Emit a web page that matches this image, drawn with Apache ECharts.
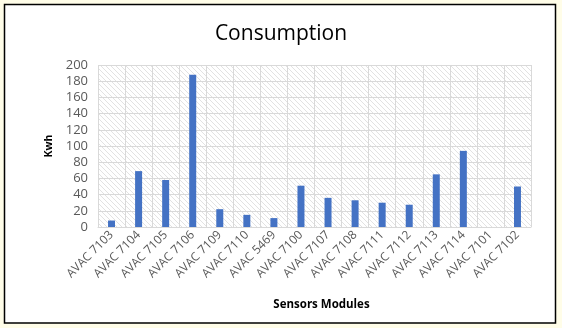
<!DOCTYPE html>
<html>
<head>
<meta charset="utf-8">
<script src="https://cdn.jsdelivr.net/npm/echarts@6/dist/echarts.min.js"></script>
<style>
html,body{margin:0;padding:0;background:#FFFDE8;}
#c{width:562px;height:328px;}
</style>
</head>
<body>
<div id="c"></div>
<script>
const categories = ["AVAC 7103","AVAC 7104","AVAC 7105","AVAC 7106","AVAC 7109","AVAC 7110","AVAC 5469","AVAC 7100","AVAC 7107","AVAC 7108","AVAC 7111","AVAC 7112","AVAC 7113","AVAC 7114","AVAC 7101","AVAC 7102"];
const consumption = [8, 69, 58, 188, 22, 15, 11, 51, 36, 33, 30, 27.5, 65, 94, 0, 50];
const yTicks = [0, 20, 40, 60, 80, 100, 120, 140, 160, 180, 200];

const pc = document.createElement('canvas');
pc.width = 5; pc.height = 5;
const g = pc.getContext('2d');
g.fillStyle = '#ffffff'; g.fillRect(0,0,5,5);
g.strokeStyle = '#e2e2e2'; g.lineWidth = 1;
g.beginPath(); g.moveTo(-1,-1); g.lineTo(6,6); g.stroke();
g.beginPath(); g.moveTo(-1,4); g.lineTo(1,6); g.stroke();
g.beginPath(); g.moveTo(4,-1); g.lineTo(6,1); g.stroke();

const chart = echarts.init(document.getElementById('c'), null, {renderer:'canvas'});
chart.setOption({
  backgroundColor: 'transparent',
  animation: false,
  graphic: [{
    type: 'rect', z: -10, silent: true,
    shape: {x: 4.5, y: 4.5, width: 551, height: 318.5},
    style: {fill: '#ffffff', stroke: '#000000', lineWidth: 1.5}
  }],
  title: {
    text: 'Consumption', left: 'center', top: 19,
    textStyle: {fontFamily: 'Open Sans', fontSize: 21, fontWeight: 'normal', color: '#000000'}
  },
  grid: {
    left: 98, right: 31, top: 65, bottom: 101,
    show: true, borderWidth: 0,
    backgroundColor: {image: pc, repeat: 'repeat'}
  },
  xAxis: {
    type: 'category',
    data: categories,
    name: 'Sensors Modules',
    nameLocation: 'middle',
    nameGap: 72,
    nameTextStyle: {fontFamily: 'Open Sans', fontSize: 11.5, fontWeight: 'bold', color: '#000000', padding: [0,0,0,14]},
    axisLine: {lineStyle: {color: '#d9d9d9'}},
    axisTick: {show: false},
    axisLabel: {rotate: 45, interval: 0, fontFamily: 'Open Sans', fontSize: 12, color: '#595959', margin: 6},
    splitLine: {show: true, lineStyle: {color: '#d9d9d9', width: 1}}
  },
  yAxis: {
    type: 'value',
    min: 0, max: 200, interval: 20,
    name: 'Kwh',
    nameLocation: 'middle',
    nameGap: 43,
    nameRotate: 90,
    nameTextStyle: {fontFamily: 'Open Sans', fontSize: 10.5, fontWeight: 'bold', color: '#000000'},
    axisLine: {show: false},
    axisTick: {show: false},
    axisLabel: {fontFamily: 'Open Sans', fontSize: 13, color: '#595959', margin: 10,
      formatter: v => yTicks.includes(v) ? String(v) : ''},
    splitLine: {show: true, lineStyle: {color: '#d9d9d9', width: 1}}
  },
  series: [{
    type: 'bar',
    data: consumption,
    barWidth: 7,
    itemStyle: {color: '#4472C4'}
  }]
});
</script>
</body>
</html>
